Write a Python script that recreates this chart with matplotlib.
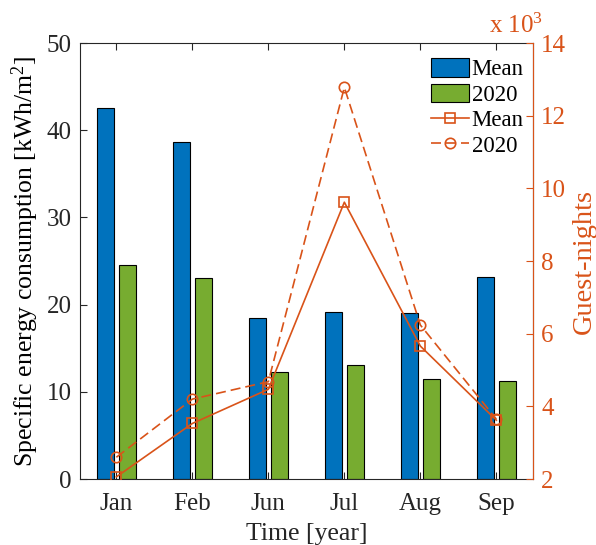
import matplotlib
matplotlib.use("Agg")
import matplotlib.pyplot as plt
import numpy as np
from matplotlib.patches import Patch
from matplotlib.lines import Line2D

plt.rcParams['font.family'] = ['Liberation Serif', 'DejaVu Serif']
plt.rcParams['mathtext.fontset'] = 'custom'
plt.rcParams['mathtext.rm'] = 'Liberation Serif'
plt.rcParams['mathtext.it'] = 'Liberation Serif:italic'

months = ["Jan", "Feb", "Jun", "Jul", "Aug", "Sep"]
energy_mean = [42.6, 38.6, 18.5, 19.15, 19.1, 23.2]
energy_2020 = [24.6, 23.1, 12.3, 13.1, 11.45, 11.3]
guests_mean = [2.06, 3.53, 4.47, 9.62, 5.66, 3.62]   # x 10^3
guests_2020 = [2.6, 4.2, 4.68, 12.78, 6.24, 3.65]    # x 10^3

blue = "#0072BD"
green = "#77AC30"
orange = "#D95319"
dark = "#262626"

fig = plt.figure(figsize=(5.96, 5.45), dpi=100)
ax = fig.add_axes([0.134, 0.121, 0.760, 0.800])
x = np.arange(1, len(months) + 1)
w = 0.23
off = 0.145
ax.bar(x - off, energy_mean, w, color=blue, edgecolor="black", linewidth=0.8, zorder=2)
ax.bar(x + off, energy_2020, w, color=green, edgecolor="black", linewidth=0.8, zorder=2)
ax.set_xlim(0.52, 6.48)
ax.set_ylim(0, 50)
ax.set_yticks([0, 10, 20, 30, 40, 50])
ax.set_xticks(x)
ax.set_xticklabels(months)
ax.tick_params(axis='both', direction='in', labelsize=18, length=5, width=0.8, top=True, colors=dark)
ax.tick_params(axis='x', pad=10)
ax.tick_params(axis='y', pad=6)
ax.set_ylabel("Specific energy consumption [kWh/m$^2$]", fontsize=18.5, color='black', labelpad=4)
ax.set_xlabel("Time [year]", fontsize=18.5, color=dark, labelpad=6)
for s in ['left', 'bottom', 'top']:
    ax.spines[s].set_color(dark)
    ax.spines[s].set_linewidth(0.8)

ax2 = ax.twinx()
ax2.plot(x, guests_mean, '-s', color=orange, markerfacecolor='none', markersize=7.5,
         markeredgewidth=1.2, linewidth=1.2, zorder=3)
ax2.plot(x, guests_2020, 'o', linestyle=(0, (6, 3)), color=orange, markerfacecolor='none',
         markersize=7.5, markeredgewidth=1.2, linewidth=1.2, zorder=3)
ax2.set_ylim(2, 14)
ax2.set_yticks([2, 4, 6, 8, 10, 12, 14])
ax2.tick_params(axis='y', direction='in', labelsize=18, length=5, width=0.8, colors=orange, pad=6)
ax2.spines['right'].set_color(orange)
ax2.spines['right'].set_linewidth(0.8)
for s in ['left', 'bottom', 'top']:
    ax2.spines[s].set_visible(False)
ax2.set_ylabel("Guest-nights", fontsize=20.5, color=orange, labelpad=4)
ax2.text(1.022, 1.012, "x 10$^3$", transform=ax2.transAxes, ha='right', va='bottom',
         fontsize=18, color=orange)

handles = [
    Patch(facecolor=blue, edgecolor='black', linewidth=0.8),
    Patch(facecolor=green, edgecolor='black', linewidth=0.8),
    Line2D([], [], color=orange, marker='s', markerfacecolor='none', linestyle='-',
           markersize=7.5, markeredgewidth=1.2, linewidth=1.2),
    Line2D([], [], color=orange, marker='o', markerfacecolor='none', linestyle=(0, (6, 3)),
           markersize=7.5, markeredgewidth=1.2, linewidth=1.2),
]
labels = ["Mean", "2020", "Mean", "2020"]
leg = ax2.legend(handles, labels, loc='upper right', fontsize=16.5, frameon=False,
                 handlelength=1.7, handleheight=0.85, handletextpad=0.1, labelspacing=0.15,
                 borderaxespad=0.0, borderpad=0.0, bbox_to_anchor=(0.98, 0.965))

fig.savefig("out.png", dpi=100)
